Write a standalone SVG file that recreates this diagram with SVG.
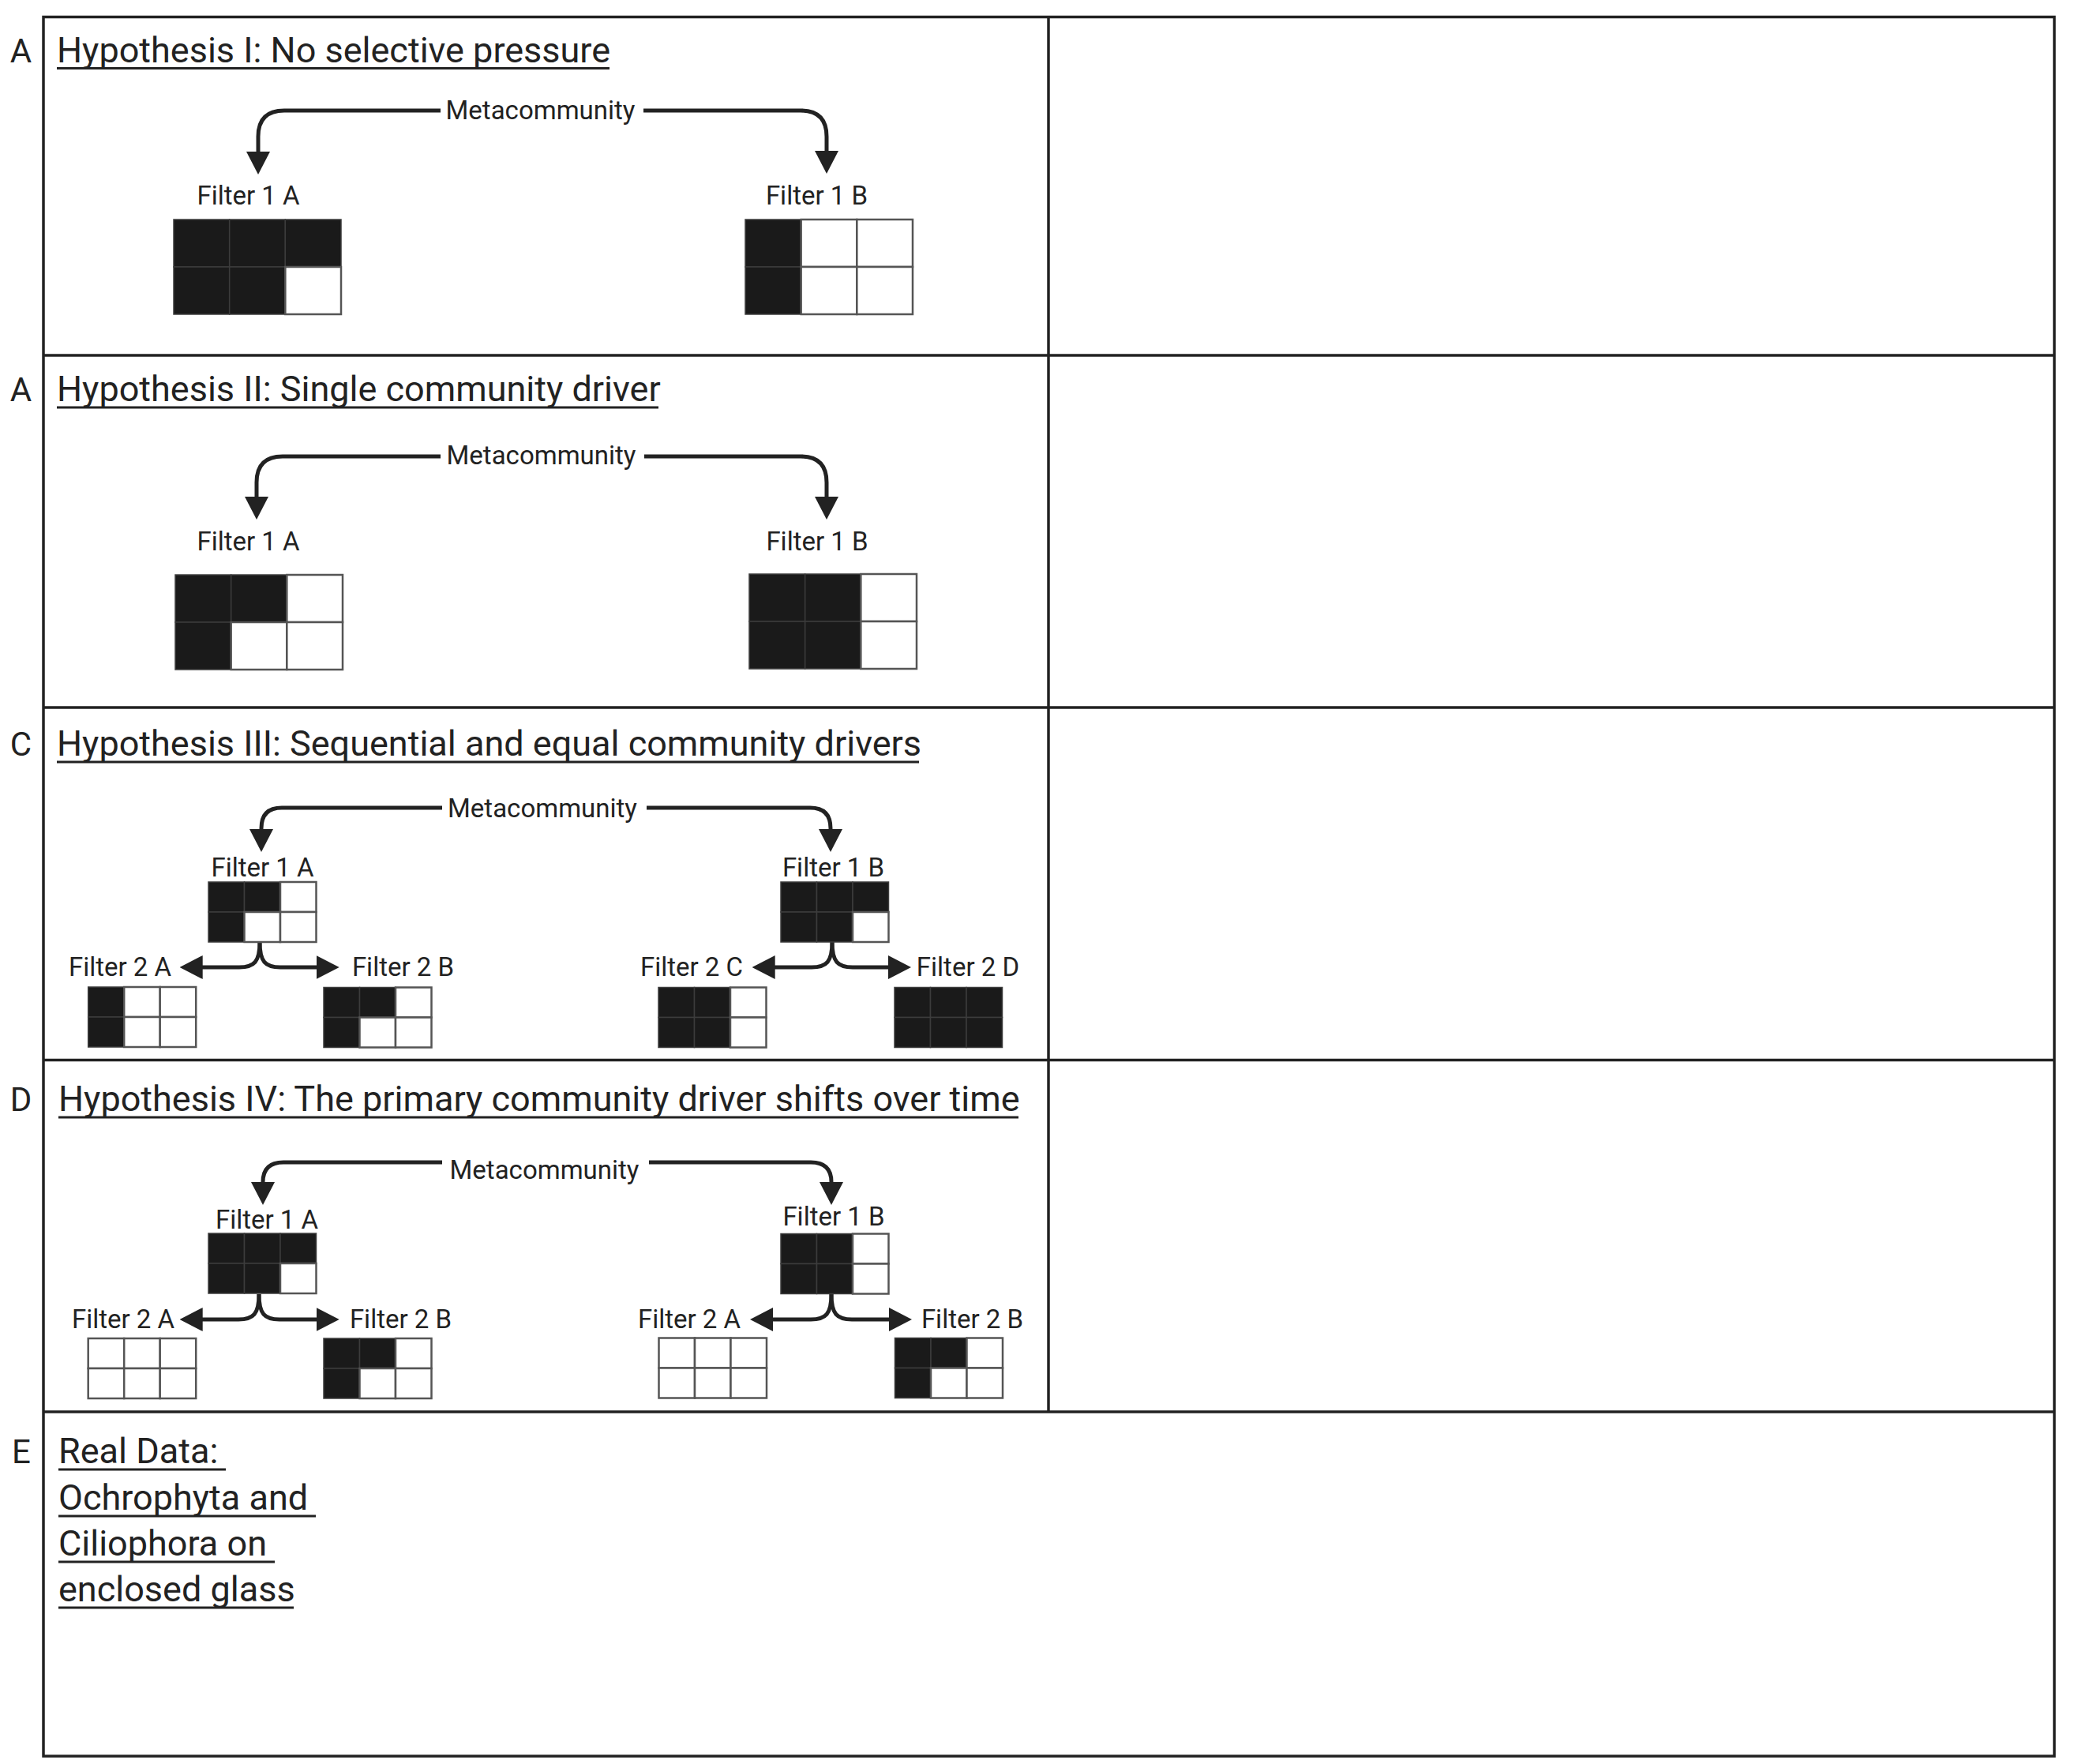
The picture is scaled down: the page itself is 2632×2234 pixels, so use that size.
<svg xmlns="http://www.w3.org/2000/svg" xmlns:xlink="http://www.w3.org/1999/xlink" width="2632" height="2234" viewBox="0 0 2632 2234">
<style>
text{font-family:Roboto,"Liberation Sans",sans-serif;fill:#222}
.lab{font-size:42px;text-anchor:middle}
.ttl{font-size:45px}
.fl{font-size:33px;text-anchor:middle}
.mc{font-size:33px;text-anchor:middle}
.ul{stroke:#222;stroke-width:3}
.frame{fill:none;stroke:#222;stroke-width:3.5}
.div{stroke:#222;stroke-width:3.5}
.b{fill:#1a1a1a;stroke:#3c3c3c;stroke-width:1.5}
.w{fill:#fff;stroke:#555;stroke-width:2.5}
.con{fill:none;stroke:#222;stroke-width:5}
</style>
<defs>
<marker id="ah" viewBox="0 0 29 30" markerWidth="29" markerHeight="30" refX="2" refY="15" orient="auto" markerUnits="userSpaceOnUse"><path d="M0,0 L29,15 L0,30 z" fill="#222"/></marker>
<rect id="bB" class="b" width="70.67" height="60"/>
<rect id="wB" class="w" width="70.67" height="60"/>
<rect id="bS" class="b" width="45.5" height="38"/>
<rect id="wS" class="w" width="45.5" height="38"/>
</defs>
<rect width="2632" height="2234" fill="#fff"/>
<g id="frame">
<rect class="frame" x="55" y="21.5" width="2547" height="2202.5"/>
<line class="div" x1="55" y1="450" x2="2602" y2="450"/>
<line class="div" x1="55" y1="896" x2="2602" y2="896"/>
<line class="div" x1="55" y1="1342.5" x2="2602" y2="1342.5"/>
<line class="div" x1="55" y1="1788" x2="2602" y2="1788"/>
<line class="div" x1="1328" y1="21.5" x2="1328" y2="1788"/>
</g>
<g id="titles">
<text class="lab" x="26.5" y="79">A</text>
<text class="ttl" x="72" y="79">Hypothesis I: No selective pressure</text>
<line class="ul" x1="72" y1="86.5" x2="772" y2="86.5"/>
<text class="lab" x="26.5" y="508">A</text>
<text class="ttl" x="72" y="508">Hypothesis II: Single community driver</text>
<line class="ul" x1="72" y1="516" x2="834" y2="516"/>
<text class="lab" x="26.5" y="957">C</text>
<text class="ttl" x="72" y="957">Hypothesis III: Sequential and equal community drivers</text>
<line class="ul" x1="72" y1="965" x2="1164" y2="965"/>
<text class="lab" x="26.5" y="1407">D</text>
<text class="ttl" x="74" y="1407">Hypothesis IV: The primary community driver shifts over time</text>
<line class="ul" x1="74" y1="1415" x2="1290" y2="1415"/>
<text class="lab" x="27" y="1853">E</text>
<text class="ttl" x="74" y="1853">Real Data:</text>
<line class="ul" x1="74" y1="1861" x2="286" y2="1861"/>
<text class="ttl" x="74" y="1912">Ochrophyta and</text>
<line class="ul" x1="74" y1="1920" x2="400" y2="1920"/>
<text class="ttl" x="74" y="1970">Ciliophora on</text>
<line class="ul" x1="74" y1="1978" x2="348" y2="1978"/>
<text class="ttl" x="74" y="2028">enclosed glass</text>
<line class="ul" x1="74" y1="2036" x2="372" y2="2036"/>
</g>
<g id="connectors">
<path class="con" d="M558,140 H360 Q327,140 327,173 V194" marker-end="url(#ah)"/>
<path class="con" d="M815,140 H1014 Q1047,140 1047,173 V193" marker-end="url(#ah)"/>
<path class="con" d="M558,578 H358 Q325,578 325,611 V631" marker-end="url(#ah)"/>
<path class="con" d="M816,578 H1014 Q1047,578 1047,611 V631" marker-end="url(#ah)"/>
<path class="con" d="M560,1023 H357 Q331,1023 331,1049 V1052" marker-end="url(#ah)"/>
<path class="con" d="M819,1023 H1026 Q1052,1023 1052,1049 V1052" marker-end="url(#ah)"/>
<path class="con" d="M560,1472 H359 Q333,1472 333,1497 V1499" marker-end="url(#ah)"/>
<path class="con" d="M822,1472 H1027 Q1053,1472 1053,1497 V1499" marker-end="url(#ah)"/>
<path class="con" d="M329,1193 C329,1218 322,1225 303,1225 H254.7" marker-end="url(#ah)"/>
<path class="con" d="M329,1193 C329,1218 336,1225 355,1225 H402.7" marker-end="url(#ah)"/>
<path class="con" d="M1054,1193 C1054,1218 1047,1225 1028,1225 H979.7" marker-end="url(#ah)"/>
<path class="con" d="M1054,1193 C1054,1218 1061,1225 1080,1225 H1127" marker-end="url(#ah)"/>
<path class="con" d="M328,1639 C328,1664 321,1671 302,1671 H254.7" marker-end="url(#ah)"/>
<path class="con" d="M328,1639 C328,1664 335,1671 354,1671 H402.7" marker-end="url(#ah)"/>
<path class="con" d="M1053,1639 C1053,1664 1046,1671 1027,1671 H977" marker-end="url(#ah)"/>
<path class="con" d="M1053,1639 C1053,1664 1060,1671 1079,1671 H1128" marker-end="url(#ah)"/>
</g>
<g id="metacommunity-labels">
<text class="mc" x="684.5" y="151">Metacommunity</text>
<text class="mc" x="685.5" y="588">Metacommunity</text>
<text class="mc" x="687" y="1035">Metacommunity</text>
<text class="mc" x="689.5" y="1493">Metacommunity</text>
</g>
<g id="h1-filter1A"><text class="fl" x="314.5" y="259">Filter 1 A</text>
<g transform="translate(220,278)"><use href="#bB"/><use href="#bB" x="70.67"/><use href="#bB" x="141.33"/><use href="#bB" y="60"/><use href="#bB" x="70.67" y="60"/><use href="#wB" x="141.33" y="60"/></g></g>
<g id="h1-filter1B"><text class="fl" x="1034.5" y="259">Filter 1 B</text>
<g transform="translate(944,278)"><use href="#bB"/><use href="#bB" y="60"/><use href="#wB" x="70.67"/><use href="#wB" x="141.33"/><use href="#wB" x="70.67" y="60"/><use href="#wB" x="141.33" y="60"/></g></g>
<g id="h2-filter1A"><text class="fl" x="314.5" y="697">Filter 1 A</text>
<g transform="translate(222,728)"><use href="#bB"/><use href="#bB" x="70.67"/><use href="#bB" y="60"/><use href="#wB" x="141.33"/><use href="#wB" x="70.67" y="60"/><use href="#wB" x="141.33" y="60"/></g></g>
<g id="h2-filter1B"><text class="fl" x="1035" y="697">Filter 1 B</text>
<g transform="translate(949,727)"><use href="#bB"/><use href="#bB" x="70.67"/><use href="#bB" y="60"/><use href="#bB" x="70.67" y="60"/><use href="#wB" x="141.33"/><use href="#wB" x="141.33" y="60"/></g></g>
<g id="h3-filter1A"><text class="fl" x="332.5" y="1110">Filter 1 A</text>
<g transform="translate(264,1117)"><use href="#bS"/><use href="#bS" x="45.5"/><use href="#bS" y="38"/><use href="#wS" x="91"/><use href="#wS" x="45.5" y="38"/><use href="#wS" x="91" y="38"/></g></g>
<g id="h3-filter1B"><text class="fl" x="1055.5" y="1110">Filter 1 B</text>
<g transform="translate(989,1117)"><use href="#bS"/><use href="#bS" x="45.5"/><use href="#bS" x="91"/><use href="#bS" y="38"/><use href="#bS" x="45.5" y="38"/><use href="#wS" x="91" y="38"/></g></g>
<g id="h3-filter2A"><text class="fl" x="152" y="1236">Filter 2 A</text>
<g transform="translate(111.7,1250)"><use href="#bS"/><use href="#bS" y="38"/><use href="#wS" x="45.5"/><use href="#wS" x="91"/><use href="#wS" x="45.5" y="38"/><use href="#wS" x="91" y="38"/></g></g>
<g id="h3-filter2B"><text class="fl" x="510.5" y="1236">Filter 2 B</text>
<g transform="translate(410,1250.5)"><use href="#bS"/><use href="#bS" x="45.5"/><use href="#bS" y="38"/><use href="#wS" x="91"/><use href="#wS" x="45.5" y="38"/><use href="#wS" x="91" y="38"/></g></g>
<g id="h3-filter2C"><text class="fl" x="876" y="1236">Filter 2 C</text>
<g transform="translate(834,1250.5)"><use href="#bS"/><use href="#bS" x="45.5"/><use href="#bS" y="38"/><use href="#bS" x="45.5" y="38"/><use href="#wS" x="91"/><use href="#wS" x="91" y="38"/></g></g>
<g id="h3-filter2D"><text class="fl" x="1226" y="1236">Filter 2 D</text>
<g transform="translate(1133,1250.5)"><use href="#bS"/><use href="#bS" x="45.5"/><use href="#bS" x="91"/><use href="#bS" y="38"/><use href="#bS" x="45.5" y="38"/><use href="#bS" x="91" y="38"/></g></g>
<g id="h4-filter1A"><text class="fl" x="338" y="1556">Filter 1 A</text>
<g transform="translate(264,1562)"><use href="#bS"/><use href="#bS" x="45.5"/><use href="#bS" x="91"/><use href="#bS" y="38"/><use href="#bS" x="45.5" y="38"/><use href="#wS" x="91" y="38"/></g></g>
<g id="h4-filter1B"><text class="fl" x="1056" y="1552">Filter 1 B</text>
<g transform="translate(989,1562.5)"><use href="#bS"/><use href="#bS" x="45.5"/><use href="#bS" y="38"/><use href="#bS" x="45.5" y="38"/><use href="#wS" x="91"/><use href="#wS" x="91" y="38"/></g></g>
<g id="h4-filter2A-left"><text class="fl" x="156" y="1682">Filter 2 A</text>
<g transform="translate(111.7,1695)"><use href="#wS"/><use href="#wS" x="45.5"/><use href="#wS" x="91"/><use href="#wS" y="38"/><use href="#wS" x="45.5" y="38"/><use href="#wS" x="91" y="38"/></g></g>
<g id="h4-filter2B-left"><text class="fl" x="507.5" y="1682">Filter 2 B</text>
<g transform="translate(410,1695)"><use href="#bS"/><use href="#bS" x="45.5"/><use href="#bS" y="38"/><use href="#wS" x="91"/><use href="#wS" x="45.5" y="38"/><use href="#wS" x="91" y="38"/></g></g>
<g id="h4-filter2A-right"><text class="fl" x="873" y="1682">Filter 2 A</text>
<g transform="translate(834.5,1694.5)"><use href="#wS"/><use href="#wS" x="45.5"/><use href="#wS" x="91"/><use href="#wS" y="38"/><use href="#wS" x="45.5" y="38"/><use href="#wS" x="91" y="38"/></g></g>
<g id="h4-filter2B-right"><text class="fl" x="1231.5" y="1682">Filter 2 B</text>
<g transform="translate(1133.5,1694.5)"><use href="#bS"/><use href="#bS" x="45.5"/><use href="#bS" y="38"/><use href="#wS" x="91"/><use href="#wS" x="45.5" y="38"/><use href="#wS" x="91" y="38"/></g></g>
</svg>
